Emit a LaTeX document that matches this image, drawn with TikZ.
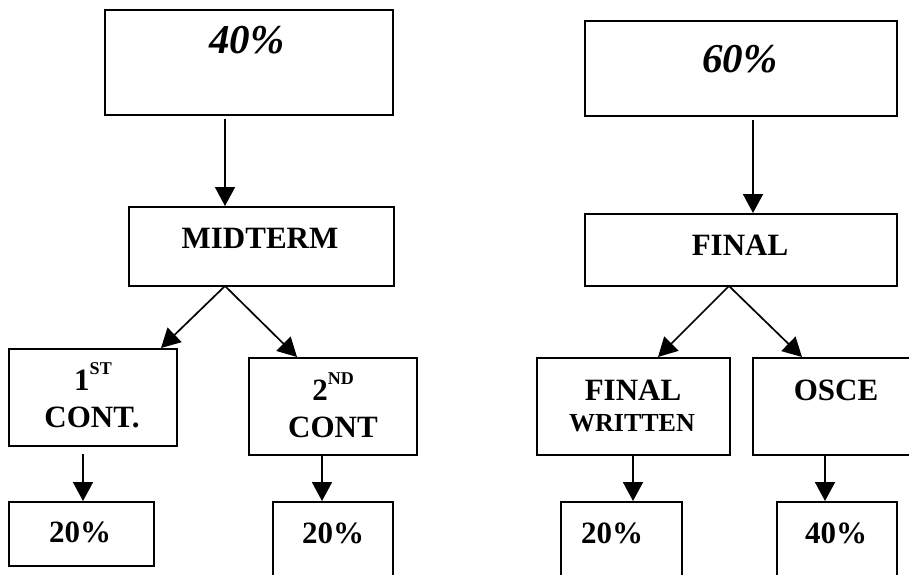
\documentclass[tikz,border=0pt]{standalone}
\usepackage{fontspec}
\setmainfont{Liberation Serif}
\usetikzlibrary{arrows.meta}
\begin{document}
\begin{tikzpicture}[x=1pt,y=-1pt,
  box/.style={draw, line width=2pt, inner sep=0pt},
  arr/.style={line width=1.7pt, -{Triangle[length=19pt,width=20pt]}},
  txt/.style={font=\bfseries\fontsize{31}{31}\selectfont, inner sep=0pt, anchor=base},
  small/.style={font=\bfseries\fontsize{26}{26}\selectfont, inner sep=0pt, anchor=base},
  big/.style={font=\bfseries\itshape\fontsize{41}{41}\selectfont, inner sep=0pt, anchor=base}]
\useasboundingbox (0,0) rectangle (909,574);
\clip (0,0) rectangle (909,574);
% boxes
\node[box, minimum width=288pt, minimum height=105pt] (p40) at (249,62.5) {};
\node[box, minimum width=265pt, minimum height=79pt] (mid) at (261.5,246.5) {};
\node[box, minimum width=312pt, minimum height=95pt] (p60) at (741,68.5) {};
\node[box, minimum width=312pt, minimum height=72pt] (fin) at (741,250) {};
\node[box, minimum width=168pt, minimum height=97pt] (c1) at (93,397.5) {};
\node[box, minimum width=168pt, minimum height=97pt] (c2) at (333,406.5) {};
\node[box, minimum width=193pt, minimum height=97pt] (fw) at (633.5,406.5) {};
\node[box, minimum width=207pt, minimum height=97pt] (osce) at (856.5,406.5) {};
\node[box, minimum width=145pt, minimum height=64pt] (b1) at (81.5,534) {};
\node[box, minimum width=120pt, minimum height=98pt] (b2) at (333,551) {};
\node[box, minimum width=121pt, minimum height=98pt] (b3) at (621.5,551) {};
\node[box, minimum width=120pt, minimum height=98pt] (b4) at (837,551) {};
% texts
\node[big] (t40) at (247,53) {40\%};
\node[big] (t60) at (740,72) {60\%};
\node[txt] (tmid) at (260,248) {MIDTERM};
\node[txt] (tfin) at (740,255) {FINAL};
\node[txt] (tc1a) at (93,390) {1\raisebox{0.5em}{\fontsize{18}{18}\selectfont ST}};
\node[txt] (tc1b) at (92,427) {CONT.};
\node[txt] (tc2a) at (333,400) {2\raisebox{0.5em}{\fontsize{18}{18}\selectfont ND}};
\node[txt] (tc2b) at (333,437) {CONT};
\node[txt] (tfwa) at (633,400) {FINAL};
\node[small] (tfwb) at (632,431) {WRITTEN};
\node[txt] (tosce) at (836,400) {OSCE};
\node[txt] (tb1) at (80,542) {20\%};
\node[txt] (tb2) at (333,543) {20\%};
\node[txt] (tb3) at (612,543) {20\%};
\node[txt] (tb4) at (836,543) {40\%};
% x positions
\coordinate (xa) at (225,0);
\coordinate (xb) at (753,0);
\coordinate (xc) at (83,0);
\coordinate (xd) at (322,0);
\coordinate (xe) at (633,0);
\coordinate (xf) at (825,0);
\coordinate (ms) at (225,286);
\coordinate (fs) at (729,286);
\coordinate (t1) at (161,0);
\coordinate (t2) at (297,0);
\coordinate (t3) at (658,0);
\coordinate (t4) at (802,0);
% connectors
\draw[arr, shorten <=3pt] (p40.south -| xa) -- (mid.north -| xa);
\draw[arr, shorten <=3pt] (p60.south -| xb) -- (fin.north -| xb);
\draw[arr] (ms) -- (c1.north -| t1);
\draw[arr] (ms) -- (c2.north -| t2);
\draw[arr] (fs) -- (fw.north -| t3);
\draw[arr] (fs) -- (osce.north -| t4);
\draw[arr, shorten <=7pt] (c1.south -| xc) -- (b1.north -| xc);
\draw[arr] (c2.south -| xd) -- (b2.north -| xd);
\draw[arr] (fw.south -| xe) -- (b3.north -| xe);
\draw[arr] (osce.south -| xf) -- (b4.north -| xf);
\end{tikzpicture}
\end{document}
